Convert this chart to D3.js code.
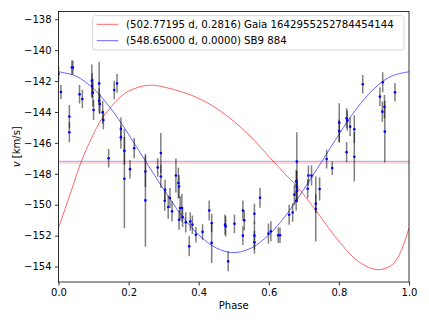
<!DOCTYPE html>
<html>
<head>
<meta charset="utf-8">
<script src="https://cdn.jsdelivr.net/npm/d3@7"></script>
<style>
  body { margin: 0; background: #fff; }
  text { font-family: "DejaVu Sans", sans-serif; }
</style>
</head>
<body>
<div id="chart"></div>
<script>
// measured radial velocities (phase, v, error)
const obsPhase = [0.000, 0.007, 0.038, 0.041, 0.031, 0.031, 0.060, 0.068, 0.095, 0.096, 0.098, 0.100,
  0.116, 0.116, 0.118, 0.126, 0.128, 0.159, 0.167, 0.143, 0.178, 0.178, 0.188, 0.188, 0.204, 0.216,
  0.248, 0.248, 0.283, 0.292, 0.292, 0.303, 0.304, 0.313, 0.318, 0.324, 0.335, 0.342, 0.344, 0.344,
  0.347, 0.352, 0.354, 0.363, 0.373, 0.376, 0.382, 0.392, 0.411, 0.430, 0.437, 0.437, 0.475, 0.477,
  0.484, 0.502, 0.526, 0.526, 0.530, 0.559, 0.559, 0.559, 0.575, 0.599, 0.606, 0.627, 0.632, 0.658,
  0.668, 0.673, 0.678, 0.680, 0.681, 0.678, 0.680, 0.711, 0.713, 0.722, 0.734, 0.734, 0.745, 0.765,
  0.781, 0.801, 0.801, 0.822, 0.824, 0.832, 0.822, 0.844, 0.844, 0.868, 0.917, 0.925, 0.924, 0.930,
  0.931, 0.960];
const obsV = [-141.55, -142.71, -141.12, -141.12, -144.30, -145.31, -142.86, -143.16, -141.98, -142.30, -142.75, -143.87,
  -142.15, -143.27, -143.48, -144.02, -144.52, -142.58, -142.15, -146.99, -145.10, -145.63, -146.52, -148.32, -147.70, -146.34,
  -147.85, -149.72, -147.59, -146.66, -148.17, -149.74, -149.03, -150.15, -149.57, -150.43, -148.11, -148.60, -148.82, -150.97,
  -150.21, -150.21, -150.79, -151.14, -152.69, -151.08, -151.29, -151.94, -151.76, -150.37, -151.18, -152.47, -151.29, -151.40,
  -153.66, -151.23, -150.37, -152.00, -151.01, -150.58, -152.00, -152.43, -149.55, -151.87, -151.72, -151.98, -151.98, -150.65,
  -150.50, -149.35, -148.50, -148.82, -149.10, -149.74, -147.21, -148.97, -148.11, -148.11, -149.94, -150.28, -148.98, -147.05,
  -147.63, -144.69, -145.23, -144.41, -144.56, -144.95, -146.60, -145.12, -146.90, -142.21, -143.01, -142.08, -143.98, -143.66,
  -145.27, -142.73];
const obsErr = [0.5, 0.45, 0.45, 0.45, 0.75, 0.65, 0.6, 0.6, 1.05, 0.8, 0.9, 0.65,
  1.4, 0.8, 0.65, 0.75, 0.6, 0.6, 0.6, 0.6, 0.75, 0.75, 0.9, 3.2, 0.6, 0.65,
  1.0, 3.0, 0.6, 1.3, 0.75, 0.65, 0.65, 0.75, 0.65, 0.65, 1.1, 1.0, 0.75, 0.65,
  0.75, 0.9, 0.65, 0.65, 0.65, 0.6, 0.6, 0.5, 0.5, 0.65, 0.6, 1.3, 0.65, 0.65,
  0.65, 0.6, 0.65, 0.6, 0.65, 0.65, 0.9, 0.75, 0.65, 0.65, 0.65, 0.5, 0.5, 0.65,
  0.6, 0.65, 0.75, 1.0, 0.75, 0.65, 1.9, 0.6, 0.65, 0.65, 0.6, 2.1, 0.75, 0.6,
  0.45, 1.25, 0.75, 0.65, 0.65, 0.6, 0.65, 0.9, 1.6, 0.6, 0.6, 0.65, 0.65, 0.75,
  2.0, 0.6];

// Gaia orbit curve (502.77195 d, e=0.2816)
const gaiaPhase = [0.000, 0.038, 0.065, 0.094, 0.122, 0.151, 0.189, 0.236, 0.270, 0.312, 0.375, 0.432, 0.489,
  0.546, 0.603, 0.646, 0.680, 0.732, 0.789, 0.846, 0.880, 0.910, 0.940, 0.960, 0.980, 1.000];
const gaiaV = [-151.50, -149.00, -147.20, -145.70, -144.50, -143.65, -142.80, -142.35, -142.27, -142.45, -142.88, -143.50, -144.40,
  -145.55, -146.95, -148.00, -148.80, -150.30, -152.05, -153.50, -154.00, -154.20, -154.05, -153.70, -152.85, -151.50];

// SB9 884 orbit curve (548.65 d, e=0)
const sb9Phase = [0.00, 0.05, 0.10, 0.15, 0.20, 0.25, 0.30, 0.35, 0.40, 0.45, 0.50,
  0.55, 0.60, 0.65, 0.70, 0.75, 0.80, 0.85, 0.90, 0.95, 1.00];
const sb9V = [-141.40, -141.68, -142.50, -143.80, -145.45, -147.25, -149.00, -150.65, -151.95, -152.80, -153.10,
  -152.80, -151.95, -150.65, -149.00, -147.25, -145.45, -143.80, -142.50, -141.68, -141.40];

// systemic velocities
const gammaGaia = -147.30;
const gammaSB9 = -147.20;

const legendLabels = ["(502.77195 d, 0.2816) Gaia 1642955252784454144", "(548.65000 d, 0.0000) SB9 884"];
const xTicks = [0.0, 0.2, 0.4, 0.6, 0.8, 1.0];
const yTicks = [-154, -152, -150, -148, -146, -144, -142, -140, -138];

const width = 429, height = 322;
const margin = {left: 58.5, right: 20, top: 11.5, bottom: 40};

const svg = d3.select("#chart").append("svg")
    .attr("width", width)
    .attr("height", height);

const x = d3.scaleLinear().domain([0, 1]).range([margin.left, width - margin.right]);
const y = d3.scaleLinear().domain([-155, -137.5]).range([height - margin.bottom, margin.top]);

const redC = "rgba(255,0,0,0.6)";
const blueC = "rgba(0,0,255,0.6)";

const plot = svg.append("g");

// clip to axes
svg.append("clipPath").attr("id", "clip").append("rect")
    .attr("x", x(0)).attr("y", y(-137.5))
    .attr("width", x(1) - x(0)).attr("height", y(-155) - y(-137.5));
plot.attr("clip-path", "url(#clip)");

const line = d3.line().curve(d3.curveCatmullRom.alpha(0.5));

plot.append("path")
    .attr("d", line(gaiaPhase.map((p, i) => [x(p), y(gaiaV[i])])))
    .attr("fill", "none").attr("stroke", redC).attr("stroke-width", 1);

plot.append("path")
    .attr("d", line(sb9Phase.map((p, i) => [x(p), y(sb9V[i])])))
    .attr("fill", "none").attr("stroke", blueC).attr("stroke-width", 1);

// systemic lines
plot.append("line")
    .attr("x1", x(0)).attr("x2", x(1))
    .attr("y1", y(gammaGaia)).attr("y2", y(gammaGaia))
    .attr("stroke", redC).attr("stroke-width", 1.2).attr("stroke-dasharray", "1,1");
plot.append("line")
    .attr("x1", x(0)).attr("x2", x(1))
    .attr("y1", y(gammaSB9)).attr("y2", y(gammaSB9))
    .attr("stroke", blueC).attr("stroke-width", 1.2).attr("stroke-dasharray", "1,1");

// error bars
plot.selectAll("line.err")
    .data(obsPhase.map((p, i) => ({p: p, v: obsV[i], e: obsErr[i]})))
    .enter().append("line")
    .attr("class", "err")
    .attr("x1", d => x(d.p)).attr("x2", d => x(d.p))
    .attr("y1", d => y(d.v - d.e)).attr("y2", d => y(d.v + d.e))
    .attr("stroke", "black").attr("stroke-opacity", 0.5).attr("stroke-width", 1.5);

plot.selectAll("circle")
    .data(obsPhase.map((p, i) => ({p: p, v: obsV[i]})))
    .enter().append("circle")
    .attr("cx", d => x(d.p)).attr("cy", d => y(d.v))
    .attr("r", 1.3)
    .attr("fill", "blue");

// axes
const xAxis = svg.append("g")
    .attr("transform", "translate(0," + y(-155) + ")")
    .call(d3.axisBottom(x).tickValues(xTicks).tickFormat(d3.format(".1f")).tickSize(3.5).tickPadding(3.5));
const yAxis = svg.append("g")
    .attr("transform", "translate(" + x(0) + ",0)")
    .call(d3.axisLeft(y).tickValues(yTicks).tickFormat(d => "\u2212" + Math.abs(d)).tickSize(3.5).tickPadding(3.5));
[xAxis, yAxis].forEach(a => {
    a.select(".domain").remove();
    a.selectAll("text").attr("font-size", 10).attr("fill", "black").attr("font-family", "DejaVu Sans");
    a.selectAll("line").attr("stroke", "black").attr("stroke-width", 0.8);
});

// frame
svg.append("rect")
    .attr("x", x(0)).attr("y", y(-137.5))
    .attr("width", x(1) - x(0)).attr("height", y(-155) - y(-137.5))
    .attr("fill", "none").attr("stroke", "black").attr("stroke-width", 0.8);

// labels
svg.append("text")
    .attr("x", (x(0) + x(1)) / 2).attr("y", 309)
    .attr("text-anchor", "middle").attr("font-size", 10)
    .text("Phase");

const yl = svg.append("text")
    .attr("transform", "translate(20," + ((y(-155) + y(-137.5)) / 2) + ") rotate(-90)")
    .attr("text-anchor", "middle").attr("font-size", 10);
yl.append("tspan").attr("font-style", "italic").text("v");
yl.append("tspan").text(" [km/s]");

// legend
const legend = svg.append("g");
legend.append("rect")
    .attr("x", 92.7).attr("y", 15.7).attr("width", 311.3).attr("height", 34.3)
    .attr("rx", 2.5)
    .attr("fill", "white").attr("fill-opacity", 0.8)
    .attr("stroke", "#cccccc").attr("stroke-width", 0.8);
const legendColors = [redC, blueC];
legend.selectAll("line")
    .data(legendLabels)
    .enter().append("line")
    .attr("x1", 96.7).attr("x2", 118.3)
    .attr("y1", (d, i) => 24.3 + i * 16.4).attr("y2", (d, i) => 24.3 + i * 16.4)
    .attr("stroke", (d, i) => legendColors[i]).attr("stroke-width", 1);
legend.selectAll("text")
    .data(legendLabels)
    .enter().append("text")
    .attr("x", 126)
    .attr("y", (d, i) => 24.3 + i * 16.4)
    .attr("dy", "0.35em")
    .attr("font-size", 10.2)
    .text(d => d);
</script>
</body>
</html>
